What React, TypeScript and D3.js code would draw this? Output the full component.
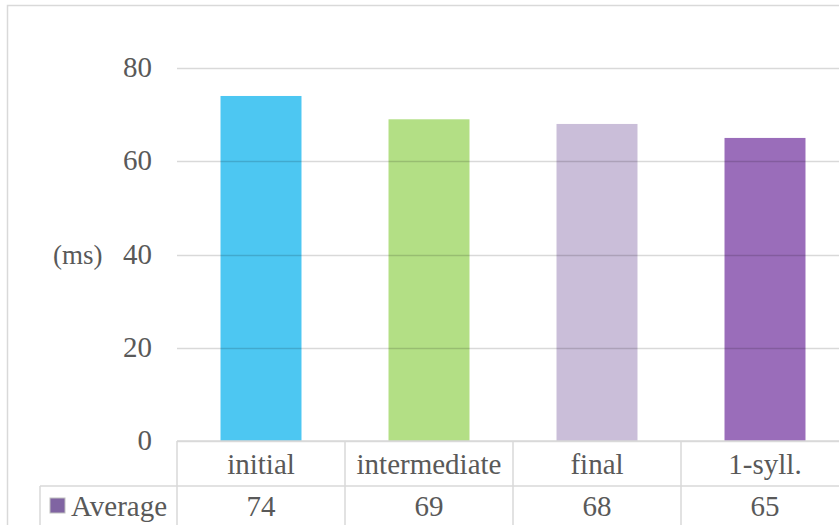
import React from "react";
import * as d3 from "d3";

// Average duration per position (ms)
const categories = ["initial", "intermediate", "final", "1-syll."];
const averages = [74, 69, 68, 65];
const barColors = ["#4DC7F2", "#B3DF85", "#CABED9", "#9A6DBA"];
const yTicks = [0, 20, 40, 60, 80];
const seriesName = "Average";
const unitLabel = "(ms)";

const W = 839;
const H = 525;
const FONT = "'Liberation Serif', 'Times New Roman', serif";
const TEXT = "#595959";
const LINE = "#d9d9d9";
const FS = 29;

export default function App() {
  const plotLeft = 177;
  const colW = 168;
  const x = d3
    .scaleBand<string>()
    .domain(categories)
    .range([plotLeft, plotLeft + colW * categories.length])
    .paddingInner(0.518)
    .paddingOuter(0.259);
  const y = d3.scaleLinear().domain([0, 80]).range([441, 68]);

  const tableTop = y(0);
  const rowSplit = 486;
  const tableBottom = 531;
  const headerLeft = 40;
  const fmt = d3.format(".0f");

  return (
    <svg
      width={W}
      height={H}
      style={{ position: "absolute", left: 0, top: 0, background: "#fff" }}
      fontFamily={FONT}
    >
      {/* chart frame */}
      <rect x={7.5} y={5.5} width={W + 50} height={H + 50} fill="#fff" stroke={LINE} strokeWidth={1.5} />

      {/* bars */}
      {categories.map((c, i) => (
        <rect
          key={c}
          x={x(c)}
          y={y(averages[i])}
          width={x.bandwidth()}
          height={y(0) - y(averages[i])}
          fill={barColors[i]}
        />
      ))}

      {/* gridlines */}
      {yTicks.map((t) => (
        <line
          key={t}
          x1={plotLeft}
          x2={W}
          y1={Math.round(y(t)) + 0.5}
          y2={Math.round(y(t)) + 0.5}
          stroke="rgba(0,0,0,0.15)"
          strokeWidth={1.5}
        />
      ))}

      {/* y tick labels */}
      {yTicks.map((t) => (
        <text key={t} x={152} y={y(t) + 9} textAnchor="end" fontSize={FS} fill={TEXT}>
          {t}
        </text>
      ))}
      <text x={53} y={y(40) + 9} fontSize={27} fill={TEXT}>
        {unitLabel}
      </text>

      {/* data table */}
      <g stroke={LINE} strokeWidth={1.5} fill="none">
        <line x1={plotLeft} x2={W} y1={tableTop} y2={tableTop} />
        <line x1={headerLeft} x2={W} y1={rowSplit} y2={rowSplit} />
        <line x1={headerLeft} x2={headerLeft} y1={rowSplit} y2={tableBottom} />
        {categories.map((c, i) => (
          <line
            key={c}
            x1={plotLeft + colW * i}
            x2={plotLeft + colW * i}
            y1={tableTop}
            y2={tableBottom}
          />
        ))}
      </g>
      {categories.map((c, i) => {
        const cx = plotLeft + colW * i + colW / 2;
        return (
          <g key={c}>
            <text x={cx} y={474} textAnchor="middle" fontSize={FS} fill={TEXT}>
              {c}
            </text>
            <text x={cx} y={516} textAnchor="middle" fontSize={FS} fill={TEXT}>
              {fmt(averages[i])}
            </text>
          </g>
        );
      })}
      <rect x={50} y={498} width={15} height={15} fill="#8064A2" stroke="#bfbfbf" strokeWidth={1} />
      <text x={71} y={516} fontSize={FS} fill={TEXT}>
        {seriesName}
      </text>
    </svg>
  );
}
